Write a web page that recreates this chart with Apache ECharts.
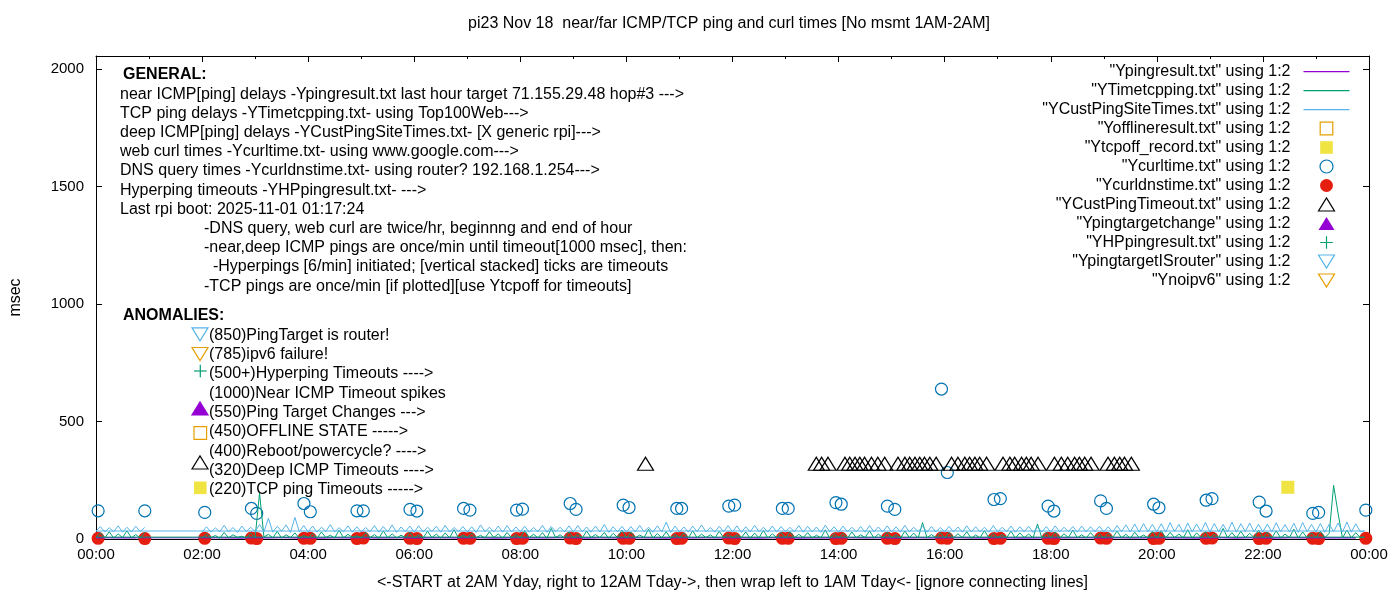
<!DOCTYPE html>
<html>
<head>
<meta charset="utf-8">
<title>pi23 Nov 18 ping and curl times</title>
<script src="https://cdn.jsdelivr.net/npm/echarts@6/dist/echarts.min.js"></script>
<style>
    html, body { margin: 0; padding: 0; background: #fff; }
    #chart { width: 1400px; height: 600px; }
</style>
</head>
<body>
<div id="chart"></div>
<script>
'use strict';

// x values are hours of the day; data starts at 02:00 yesterday, runs to 24:00,
// then wraps back to 00:00-01:00 today (hence the long connecting lines)

// near ICMP ping (Ypingresult), one value per 15 min
var nearLate = [ // 02:00 .. 23:45
    5, 6, 5, 4, 6, 5, 7, 5, 5, 4, 6, 5, 6, 5, 5, 6, 4, 5, 6, 5, 5, 6, 4, 5,
    6, 5, 5, 7, 5, 4, 6, 5, 5, 6, 5, 4, 6, 5, 6, 5, 5, 5, 4, 6, 6, 4, 5, 5,
    5, 6, 5, 6, 4, 5, 6, 5, 5, 6, 5, 4, 6, 5, 4, 5, 5, 5, 6, 6, 4, 6, 5, 5,
    6, 5, 5, 4, 5, 6, 4, 6, 5, 4, 6, 5, 6, 5, 5, 5
];
var nearEarly = [5, 6, 5, 5]; // 00:00 .. 00:45

// TCP ping delays (YTimetcpping), one value per 5 min
var tcpLate = [ // 02:00 .. 23:55
    4, 22, 6, 15, 3, 28, 5, 18, 7, 12, 4, 25,
    6, 195, 8, 20, 5, 32, 4, 18, 6, 26, 3, 15,
    5, 24, 3, 30, 6, 16, 4, 38, 5, 20, 7, 14,
    4, 27, 6, 19, 3, 35, 5, 22, 4, 16, 6, 29,
    5, 18, 4, 33, 6, 21, 3, 26, 5, 40, 4, 17,
    6, 25, 5, 16, 4, 31, 6, 22, 3, 28, 5, 19,
    4, 36, 6, 20, 5, 27, 3, 45, 6, 18, 4, 30,
    5, 22, 4, 34, 6, 19, 5, 28, 3, 24, 6, 38,
    4, 29, 5, 17, 6, 42, 4, 23, 5, 31, 3, 20,
    6, 26, 4, 35, 5, 21, 6, 18, 4, 33, 5, 24,
    5, 19, 6, 30, 3, 25, 5, 37, 4, 22, 6, 28,
    4, 32, 5, 20, 6, 27, 4, 16, 5, 39, 3, 23,
    6, 24, 4, 30, 5, 18, 6, 35, 4, 21, 5, 29,
    5, 20, 3, 34, 6, 25, 4, 70, 5, 19, 6, 27,
    4, 28, 5, 22, 6, 31, 3, 17, 5, 36, 4, 24,
    6, 19, 5, 33, 4, 26, 6, 21, 5, 64, 3, 28,
    5, 30, 4, 22, 6, 38, 5, 18, 4, 27, 6, 23,
    4, 25, 6, 34, 5, 20, 3, 29, 6, 17, 4, 33,
    5, 36, 4, 28, 6, 21, 5, 40, 3, 26, 6, 31,
    4, 22, 5, 45, 6, 27, 4, 33, 5, 24, 6, 38,
    6, 29, 4, 35, 5, 21, 6, 42, 4, 30, 5, 26,
    5, 33, 6, 24, 228, 110, 4, 38, 5, 27, 6, 8
];
var tcpEarly = [8, 26, 5, 31, 4, 22, 6, 35, 5, 19, 4, 28]; // 00:00 .. 00:55

// deep ICMP ping delays (YCustPingSiteTimes), one value per 5 min
var custLate = [ // 02:00 .. 23:55
    30, 52, 29, 47, 31, 58, 30, 49, 28, 55, 32, 50,
    31, 62, 30, 88, 29, 54, 33, 60, 28, 92, 31, 57,
    30, 55, 29, 50, 32, 61, 30, 48, 31, 56, 29, 52,
    30, 49, 31, 57, 29, 53, 30, 60, 28, 51, 31, 55,
    29, 56, 30, 50, 32, 54, 29, 58, 30, 49, 31, 53,
    30, 52, 28, 60, 31, 50, 30, 55, 29, 57, 30, 51,
    31, 54, 29, 49, 30, 58, 28, 53, 31, 50, 30, 56,
    30, 57, 31, 51, 29, 55, 30, 62, 28, 52, 31, 54,
    29, 53, 30, 58, 31, 50, 29, 56, 30, 72, 28, 55,
    30, 51, 29, 55, 31, 60, 30, 49, 29, 54, 31, 57,
    30, 56, 28, 52, 30, 58, 31, 50, 29, 55, 30, 53,
    31, 50, 30, 57, 29, 54, 30, 51, 28, 59, 31, 52,
    29, 55, 31, 50, 30, 53, 29, 57, 31, 51, 30, 56,
    30, 52, 29, 58, 30, 50, 31, 55, 29, 53, 30, 49,
    31, 54, 30, 51, 29, 56, 30, 52, 31, 50, 29, 57,
    30, 50, 31, 55, 29, 52, 30, 54, 28, 51, 30, 53,
    29, 56, 30, 50, 31, 53, 29, 55, 30, 52, 31, 54,
    30, 52, 29, 57, 31, 60, 30, 64, 29, 66, 31, 62,
    30, 65, 29, 70, 31, 62, 28, 68, 30, 64, 31, 71,
    29, 66, 31, 62, 30, 72, 29, 65, 31, 68, 30, 63,
    30, 64, 29, 69, 31, 61, 30, 67, 28, 70, 31, 62,
    30, 66, 29, 63, 31, 68, 30, 72, 29, 65, 31, 34
];
var custEarly = [34, 52, 30, 48, 31, 56, 29, 50, 30, 54, 31, 49]; // 00:00 .. 00:55

// web curl (Ycurltime) and DNS query (Ycurldnstime), twice an hour
var curlHours = [
    0.04, 0.92, 2.05, 2.93, 3.03, 3.92, 4.04, 4.92, 5.04, 5.92, 6.05, 6.93,
    7.05, 7.93, 8.04, 8.94, 9.05, 9.94, 10.05, 10.95, 11.04, 11.93, 12.04, 12.94,
    13.05, 13.95, 14.05, 14.92, 15.06, 15.94, 16.05, 16.93, 17.05, 17.95, 18.06, 18.94,
    19.05, 19.94, 20.04, 20.93, 21.04, 21.93, 22.06, 22.94, 23.05, 23.94
];
var curlMsec = [
    120, 120, 113, 130, 109, 151, 116, 120, 120, 126, 119, 130,
    123, 123, 127, 151, 126, 144, 134, 130, 130, 140, 144, 130,
    130, 155, 148, 140, 126, 638, 283, 168, 172, 140, 119, 162,
    130, 148, 133, 165, 172, 157, 119, 109, 113, 123
];
var dnsMsec = [
    3, 2, 3, 4, 2, 3, 3, 2, 4, 3, 2, 3,
    3, 2, 3, 4, 2, 3, 3, 2, 3, 4, 2, 3,
    3, 2, 3, 3, 2, 4, 3, 2, 3, 3, 2, 4,
    3, 2, 3, 3, 4, 2, 3, 3, 2, 3
];

// deep ICMP timeouts (YCustPingTimeout)
var custTimeoutHours = [
    10.36,
    13.58, 13.68, 13.80,
    14.12, 14.21, 14.31, 14.40, 14.49, 14.62, 14.74, 14.87,
    15.12, 15.25, 15.34, 15.44, 15.53, 15.62, 15.72, 15.84,
    16.13, 16.25, 16.38, 16.47, 16.57, 16.66, 16.79,
    17.10, 17.23, 17.32, 17.45, 17.54, 17.63, 17.76,
    18.07, 18.20, 18.32, 18.45, 18.54, 18.64, 18.76,
    19.08, 19.20, 19.30, 19.39, 19.52
];
var custTimeoutMsec = [
    320,
    320, 320, 320,
    320, 320, 320, 320, 320, 320, 320, 320,
    320, 320, 320, 320, 320, 320, 320, 320,
    320, 320, 320, 320, 320, 320, 320,
    320, 320, 320, 320, 320, 320, 320,
    320, 320, 320, 320, 320, 320, 320,
    320, 320, 320, 320, 320
];

// TCP ping timeouts (Ytcpoff_record)
var tcpOffHours = [22.47];
var tcpOffMsec = [220];

var hourTicks = ['00:00', '02:00', '04:00', '06:00', '08:00', '10:00', '12:00',
    '14:00', '16:00', '18:00', '20:00', '22:00', '00:00'];

var generalText = [
    'near ICMP[ping] delays -Ypingresult.txt last hour target 71.155.29.48 hop#3 --->',
    'TCP ping delays -YTimetcpping.txt- using Top100Web--->',
    'deep ICMP[ping] delays -YCustPingSiteTimes.txt- [X generic rpi]--->',
    'web curl times -Ycurltime.txt- using www.google.com--->',
    'DNS query times -Ycurldnstime.txt- using router? 192.168.1.254--->',
    'Hyperping timeouts -YHPpingresult.txt- --->',
    'Last rpi boot: 2025-11-01 01:17:24'
];
var notesText = [
    '-DNS query, web curl are twice/hr, beginnng and end of hour',
    '-near,deep ICMP pings are once/min until timeout[1000 msec], then:',
    '  -Hyperpings [6/min] initiated; [vertical stacked] ticks are timeouts',
    '-TCP pings are once/min [if plotted][use Ytcpoff for timeouts]'
];
var anomalyText = [
    '(850)PingTarget is router!',
    '(785)ipv6 failure!',
    '(500+)Hyperping Timeouts ---->',
    '(1000)Near ICMP Timeout spikes',
    '(550)Ping Target Changes --->',
    '(450)OFFLINE STATE ----->',
    '(400)Reboot/powercycle? ---->',
    '(320)Deep ICMP Timeouts ---->',
    '(220)TCP ping Timeouts ----->'
];

var FONT = 'Liberation Sans';
var C_PURPLE = '#9400d3', C_GREEN = '#009e73', C_SKY = '#56b4e9', C_ORANGE = '#e69f00',
    C_YELLOW = '#f0e442', C_BLUE = '#0072b2', C_RED = '#e51e10';
var DOWN_TRI = 'path://M0,0L16,0L8,13Z';
var PLUS = 'path://M5.5,0H6.5V5.5H12V6.5H6.5V12H5.5V6.5H0V5.5H5.5Z';

// legend keys, drawn in a 46x13 box (leading M points fix the box)
var KEY_BOX = 'path://M0,0M46,13';
var KEY_LINE = KEY_BOX + 'M0,6H46V7.2H0Z';
var KEY_SQUARE = KEY_BOX + 'M16.7,0.2H29.3V12.8H16.7Z';
var KEY_UP = KEY_BOX + 'M15,13H31L23,0Z';
var KEY_DOWN = KEY_BOX + 'M15,0H31L23,13Z';
var KEY_PLUS = KEY_BOX + 'M16.7,5.9H29.3V7.1H16.7ZM22.4,0.2H23.6V12.8H22.4Z';

function wrapSeries(late, early, stepMin) {
    var pts = [];
    late.forEach(function(v, i) { pts.push([2 + i * stepMin / 60, v]); });
    early.forEach(function(v, i) { pts.push([i * stepMin / 60, v]); });
    return pts;
}

function zipPoints(xs, ys) {
    return xs.map(function(x, i) { return [x, ys[i]]; });
}

function lineSeries(name, color, data) {
    return {
        name: name, type: 'line', data: data, symbol: 'none', showSymbol: false,
        lineStyle: { color: color, width: 1 }, itemStyle: { color: color },
        legendKey: KEY_LINE, legendStyle: { color: color, borderWidth: 0 }
    };
}

function scatterSeries(name, symbol, size, fill, stroke, data, key) {
    return {
        name: name, type: 'scatter', data: data, symbol: symbol, symbolSize: size,
        itemStyle: { color: fill, borderColor: stroke, borderWidth: stroke ? 1.2 : 0, opacity: 1 },
        legendKey: key,
        legendStyle: { color: fill, borderColor: stroke || 'none', borderWidth: stroke ? 1.2 : 0, opacity: 1 }
    };
}

function txt(x, y, text, bold) {
    return {
        type: 'text', x: x, y: y, silent: true,
        style: {
            text: text, fontFamily: FONT, fontSize: 16, fontWeight: bold ? 'bold' : 'normal',
            fill: '#000', verticalAlign: 'middle'
        }
    };
}

function upTri(cy, fill, stroke) {
    return { type: 'polygon', silent: true, shape: { points: [[192, cy + 6.5], [208, cy + 6.5], [200, cy - 6.5]] },
        style: { fill: fill, stroke: stroke, lineWidth: 1.2 } };
}

function downTri(cy, stroke) {
    return { type: 'polygon', silent: true, shape: { points: [[192, cy - 6.5], [208, cy - 6.5], [200, cy + 6.5]] },
        style: { fill: 'none', stroke: stroke, lineWidth: 1.2 } };
}

function square(cy, fill, stroke) {
    return { type: 'rect', silent: true, shape: { x: 194, y: cy - 6.3, width: 12.6, height: 12.6 },
        style: { fill: fill, stroke: stroke, lineWidth: 1.2 } };
}

// text blocks and anomaly keys
var graphics = [txt(123, 75, 'GENERAL:', true)];
generalText.forEach(function(t, i) { graphics.push(txt(120, 94.2 + i * 19.2, t)); });
notesText.forEach(function(t, i) { graphics.push(txt(204, 228.6 + i * 19.2, t)); });
graphics.push(txt(123, 316, 'ANOMALIES:', true));
anomalyText.forEach(function(t, i) { graphics.push(txt(209, 335.3 + i * 19.3, t)); });
graphics.push(downTri(334.3, C_SKY));
graphics.push(downTri(354, C_ORANGE));
graphics.push({ type: 'line', silent: true, shape: { x1: 194, y1: 371, x2: 206.6, y2: 371 }, style: { stroke: C_GREEN, lineWidth: 1.2 } });
graphics.push({ type: 'line', silent: true, shape: { x1: 200.3, y1: 364.7, x2: 200.3, y2: 377.3 }, style: { stroke: C_GREEN, lineWidth: 1.2 } });
graphics.push(upTri(408.5, C_PURPLE, C_PURPLE));
graphics.push(square(433, 'none', C_ORANGE));
graphics.push(upTri(462.5, 'none', '#000'));
graphics.push(square(487.8, C_YELLOW, null));

var series = [
    lineSeries('"Ypingresult.txt" using 1:2', C_PURPLE, wrapSeries(nearLate, nearEarly, 15)),
    lineSeries('"YTimetcpping.txt" using 1:2', C_GREEN, wrapSeries(tcpLate, tcpEarly, 5)),
    lineSeries('"YCustPingSiteTimes.txt" using 1:2', C_SKY, wrapSeries(custLate, custEarly, 5)),
    scatterSeries('"Yofflineresult.txt" using 1:2', 'rect', 13, 'none', C_ORANGE, [], KEY_SQUARE),
    scatterSeries('"Ytcpoff_record.txt" using 1:2', 'rect', 13, C_YELLOW, null, zipPoints(tcpOffHours, tcpOffMsec), KEY_SQUARE),
    scatterSeries('"Ycurltime.txt" using 1:2', 'circle', 12, 'none', C_BLUE, zipPoints(curlHours, curlMsec), 'circle'),
    scatterSeries('"Ycurldnstime.txt" using 1:2', 'circle', 13, C_RED, null, zipPoints(curlHours, dnsMsec), 'circle'),
    scatterSeries('"YCustPingTimeout.txt" using 1:2', 'triangle', [16, 13], 'none', '#000', zipPoints(custTimeoutHours, custTimeoutMsec), KEY_UP),
    scatterSeries('"Ypingtargetchange" using 1:2', 'triangle', [16, 13], C_PURPLE, null, [], KEY_UP),
    scatterSeries('"YHPpingresult.txt" using 1:2', PLUS, 13, C_GREEN, null, [], KEY_PLUS),
    scatterSeries('"YpingtargetISrouter" using 1:2', DOWN_TRI, [16, 13], 'none', C_SKY, [], KEY_DOWN),
    scatterSeries('"Ynoipv6" using 1:2', DOWN_TRI, [16, 13], 'none', C_ORANGE, [], KEY_DOWN)
];

var legendData = series.map(function(s) {
    return { name: s.name, icon: s.legendKey, itemStyle: s.legendStyle };
});

function xAxisOf(position, showLabels) {
    return {
        type: 'value', position: position, min: 0, max: 24, interval: 2,
        name: showLabels ? '<-START at 2AM Yday, right to 12AM Tday->, then wrap left to 1AM Tday<- [ignore connecting lines]' : '',
        nameLocation: 'middle', nameGap: 36,
        nameTextStyle: { color: '#000', fontFamily: FONT, fontSize: 16 },
        axisLine: { show: true, onZero: false, lineStyle: { color: '#000', width: 1 } },
        axisTick: { show: true, inside: true, length: 6, lineStyle: { color: '#000' } },
        minorTick: { show: true, splitNumber: 2, length: 3, lineStyle: { color: '#000' } },
        splitLine: { show: false },
        axisLabel: {
            show: showLabels, margin: 8, color: '#000', fontFamily: FONT, fontSize: 15,
            formatter: function(v) { return hourTicks[Math.round(v / 2)]; }
        }
    };
}

function yAxisOf(position, showLabels) {
    return {
        type: 'value', position: position, min: 0, max: 2055, interval: 500,
        name: showLabels ? 'msec' : '', nameLocation: 'middle', nameGap: 72, nameRotate: 90,
        nameTextStyle: { color: '#000', fontFamily: FONT, fontSize: 16 },
        axisLine: { show: true, onZero: false, lineStyle: { color: '#000', width: 1 } },
        axisTick: { show: true, inside: true, length: 6, lineStyle: { color: '#000' } },
        splitLine: { show: false },
        axisLabel: {
            show: showLabels, margin: 12, color: '#000', fontFamily: FONT, fontSize: 15,
            showMaxLabel: false,
            formatter: function(v) { return v % 500 === 0 ? String(v) : ''; }
        }
    };
}

var chart = echarts.init(document.getElementById('chart'));
chart.setOption({
    animation: false,
    backgroundColor: '#fff',
    title: {
        text: 'pi23 Nov 18  near/far ICMP/TCP ping and curl times [No msmt 1AM-2AM]',
        left: 729, top: 16, textAlign: 'center', padding: 0,
        textStyle: { color: '#000', fontFamily: FONT, fontSize: 16, fontWeight: 'normal' }
    },
    legend: {
        orient: 'vertical', align: 'right', right: 48, top: 62, padding: 0,
        itemWidth: 46, itemHeight: 13, itemGap: 0,
        selectedMode: false,
        textStyle: { color: '#000', fontFamily: FONT, fontSize: 16, lineHeight: 19, padding: [0, 8, 0, 0] },
        data: legendData
    },
    grid: { left: 94, right: 31, top: 56, bottom: 61 },
    xAxis: [xAxisOf('bottom', true), xAxisOf('top', false)],
    yAxis: [yAxisOf('left', true), yAxisOf('right', false)],
    graphic: graphics,
    series: series
});
</script>
</body>
</html>
